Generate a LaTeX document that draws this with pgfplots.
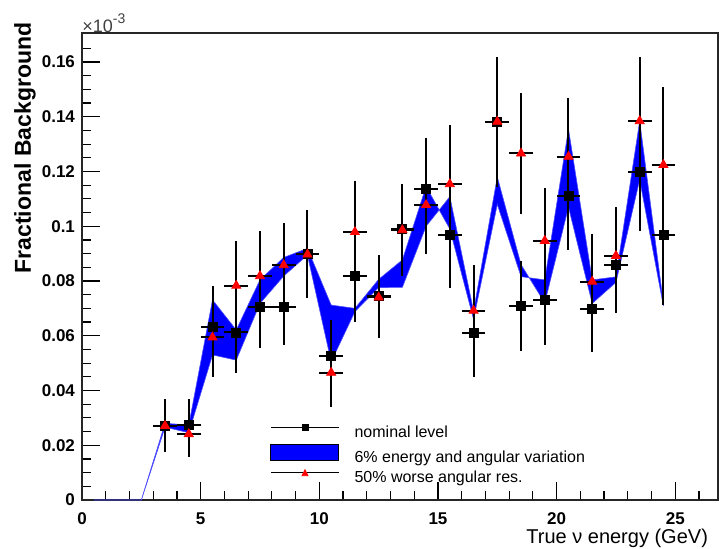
\documentclass[border=0pt]{standalone}
\usepackage{pgfplots}
\pgfplotsset{compat=1.18}
\usepackage{pgfplotstable}
\usepackage{fontspec}
\setmainfont{Liberation Sans}

% bin centre, nominal, error, 50% worse ang. res., error
\pgfplotstableread{
x    nom     enom    tri     etri
3.5  0.0271  0.0097  0.0271  0.0097
4.5  0.0274  0.0095  0.0241  0.0085
5.5  0.0631  0.0150  0.0594  0.0144
6.5  0.0612  0.0149  0.0783  0.0164
7.5  0.0704  0.0150  0.0818  0.0165
8.5  0.0706  0.0140  0.0858  0.0155
9.5  0.0900  0.0160  0.0897  0.0160
10.5 0.0526  0.0132  0.0465  0.0124
11.5 0.0818  0.0167  0.0979  0.0188
12.5 0.0745  0.0150  0.0740  0.0148
13.5 0.0990  0.0165  0.0986  0.0167
14.5 0.1135  0.0186  0.1078  0.0179
15.5 0.0968  0.0192  0.1154  0.0216
16.5 0.0611  0.0161  0.0692  0.0166
17.5 0.1382  0.0235  0.1382  0.0238
18.5 0.0709  0.0163  0.1266  0.0220
19.5 0.0731  0.0165  0.0947  0.0194
20.5 0.1111  0.0198  0.1254  0.0213
21.5 0.0697  0.0155  0.0798  0.0174
22.5 0.0858  0.0174  0.0892  0.0177
23.5 0.1199  0.0215  0.1384  0.0236
24.5 0.0968  0.0256  0.1224  0.0286
}\datatable

\begin{document}
\begin{tikzpicture}[x=1pt,y=1pt]
\useasboundingbox (0,0) rectangle (362.5,274.5);
\begin{axis}[
  at={(41pt,24.5pt)}, anchor=south west,
  scale only axis, width=318pt, height=233.5pt,
  xmin=0, xmax=26.8, ymin=0, ymax=0.1706,
  xtick={0,5,10,15,20,25}, xticklabels={0,5,10,15,20,25},
  minor xtick={0,1,...,26},
  ytick={0,0.02,0.04,0.06,0.08,0.1,0.12,0.14,0.16},
  yticklabels={0,0.02,0.04,0.06,0.08,0.1,0.12,0.14,0.16},
  minor ytick={0.005,0.01,0.015,0.025,0.03,0.035,0.045,0.05,0.055,0.065,0.07,0.075,0.085,0.09,0.095,0.105,0.11,0.115,0.125,0.13,0.135,0.145,0.15,0.155,0.165},
  xtick pos=left, ytick pos=left,
  tick align=inside,
  major tick length=9pt, minor tick length=4.5pt,
  every tick/.style={black, line width=0.6pt},
  axis line style={line width=0.75pt, black!85},
  scaled ticks=false,
  /pgf/number format/assume math mode=true,
  ticklabel style={font=\bfseries\fontsize{8.5}{10}\selectfont},
  xticklabel style={yshift=-3pt},
  ylabel={\bfseries Fractional Background},
  ylabel style={at={(rel axis cs:-0.0896,0.7537)}, anchor=center, font=\fontsize{11.5}{13}\selectfont},
  xlabel={True ν energy (GeV)},
  xlabel style={at={(rel axis cs:0.9953,-0.0814)}, anchor=east, font=\fontsize{10}{12}\selectfont},
  legend style={at={(rel axis cs:0.2956,0.1627)}, anchor=north west, draw=none, fill=none,
    inner sep=0pt, row sep=1.75pt,
    nodes={inner sep=0pt, text height=6.5pt, text depth=1.5pt, font=\fontsize{8}{9.6}\selectfont},
    /tikz/every odd column/.append style={column sep=7.5pt}},
  legend cell align=left,
  clip=false,
]
\addlegendimage{legend image code/.code={
  \draw[black, line width=0.6pt] (0pt,2.5pt) -- (34pt,2.5pt);
  \fill[black] (15.5pt,1pt) rectangle (18.5pt,4pt);}}
\addlegendentry{nominal level}
\addlegendimage{legend image code/.code={
  \draw[black, line width=0.5pt, fill=blue] (0pt,-1.5pt) rectangle (34pt,6.5pt);}}
\addlegendentry{6\% energy and angular variation}
\addlegendimage{legend image code/.code={
  \draw[black, line width=0.6pt] (0pt,2.5pt) -- (34pt,2.5pt);
  \fill[red] (15.5pt,1pt) -- (18.5pt,1pt) -- (17pt,4pt) -- cycle;}}
\addlegendentry{50\% worse angular res.}

% band: first curve forward, second curve backward
\addplot[fill=blue, draw=blue!70, line width=0.3pt, forget plot] coordinates {
 (0.5,0) (1.5,0) (2.5,0) (3.5,0.0280) (4.5,0.0274) (5.5,0.0731) (6.5,0.0621)
 (7.5,0.0804) (8.5,0.0886) (9.5,0.0919) (10.5,0.0712) (11.5,0.0700) (12.5,0.0806)
 (13.5,0.0877) (14.5,0.1145) (15.5,0.0990) (16.5,0.0660) (17.5,0.1080) (18.5,0.0816)
 (19.5,0.0804) (20.5,0.1355) (21.5,0.0804) (22.5,0.0815) (23.5,0.1384) (24.5,0.0718)
 (24.5,0.0708) (23.5,0.1170) (22.5,0.0795) (21.5,0.0718) (20.5,0.1070) (19.5,0.0720)
 (18.5,0.0860) (17.5,0.1180) (16.5,0.0690) (15.5,0.1108) (14.5,0.1000) (13.5,0.0777)
 (12.5,0.0776) (11.5,0.0688) (10.5,0.0505) (9.5,0.0895) (8.5,0.0818) (7.5,0.0718)
 (6.5,0.0511) (5.5,0.0530) (4.5,0.0246) (3.5,0.0266) (2.5,0) (1.5,0) (0.5,0)
} -- cycle;

\addplot[only marks, mark=square*, mark size=2.25pt, black, forget plot,
  error bars/.cd, x dir=both, x fixed=0.5, y dir=both, y explicit, error mark=none,
  error bar style={line width=1pt, black}]
  table[x=x, y=nom, y error=enom] {\datatable};

\addplot[only marks, mark=triangle*, mark size=2.6pt, red, mark options={fill=red, draw=red}, forget plot,
  error bars/.cd, x dir=both, x fixed=0.5, y dir=both, y explicit, error mark=none,
  error bar style={line width=1pt, black}]
  table[x=x, y=tri, y error=etri] {\datatable};

\node[anchor=south west, inner sep=0pt, font=\fontsize{9}{10}\selectfont, text=black!75]
  at (rel axis cs:0,1) {×10\raisebox{0.5em}{\fontsize{7}{8}\selectfont -3}};
\end{axis}
\end{tikzpicture}
\end{document}
